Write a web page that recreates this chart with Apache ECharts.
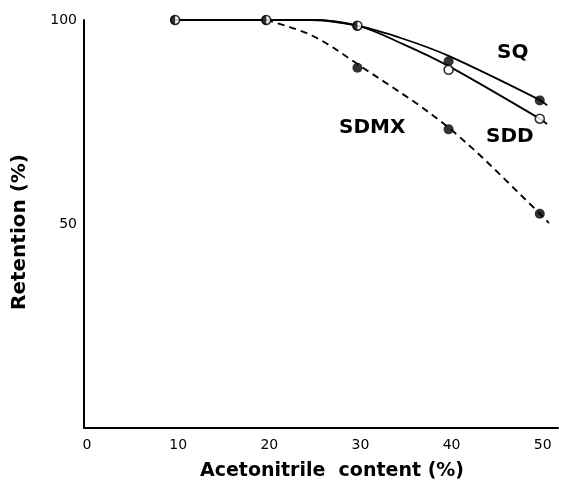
<!DOCTYPE html>
<html>
<head>
<meta charset="utf-8">
<script src="https://cdn.jsdelivr.net/npm/echarts@6/dist/echarts.min.js"></script>
<style>
  html, body { margin: 0; padding: 0; background: #fff; }
  #chart { width: 561px; height: 486px; }
</style>
</head>
<body>
<div id="chart"></div>
<script>
// Measured retention values (%) at each acetonitrile content (%)
const xTicks = [0, 10, 20, 30, 40, 50];
const yTicks = [50, 100];

// shared points where SQ and SDD coincide (half-filled markers)
const sharedX = [10, 20, 30];
const sharedY = [100, 100, 98.6];

const sqX = [40, 50];
const sqY = [89.9, 80.3];

const sddX = [40, 50];
const sddY = [87.8, 75.8];

const sdmxX = [30, 40, 50];
const sdmxY = [88.3, 73.2, 52.5];

// fitted curves
const sqCurveX = [10, 20, 25, 30, 35, 40, 50, 50.8];
const sqCurveY = [100, 100, 100, 98.6, 95.4, 91.2, 80.4, 79.1];

const sddCurveX = [10, 20, 25, 30, 35, 40, 50, 50.8];
const sddCurveY = [100, 100, 100, 98.6, 94.1, 88.7, 75.8, 74.5];

const sdmxCurveX = [20, 25, 30, 40, 50, 51];
const sdmxCurveY = [100, 96.2, 89.2, 73.6, 52.6, 50.2];

const zip = (xs, ys) => xs.map((x, i) => [x, ys[i]]);

const ink = '#000';
const titleFont = 'DejaVu Sans';

const chart = echarts.init(document.getElementById('chart'), null, { renderer: 'canvas' });

const curveBase = {
  type: 'line',
  smooth: 0.35,
  showSymbol: false,
  silent: true,
  z: 2
};

chart.setOption({
  animation: false,
  backgroundColor: '#fff',
  grid: { left: 84, top: 20, width: 476, height: 414, containLabel: false },
  xAxis: {
    type: 'value',
    min: 0,
    max: 52,
    interval: 10,
    axisLine: { show: true, onZero: false, lineStyle: { color: ink, width: 2 } },
    axisTick: { show: false },
    splitLine: { show: false },
    axisLabel: {
      color: ink,
      fontFamily: 'DejaVu Sans',
      fontSize: 14,
      margin: 10,
      padding: [0, 0, 0, 6],
      formatter: v => (xTicks.indexOf(v) >= 0 ? String(v) : '')
    },
    name: 'Acetonitrile  content (%)',
    nameLocation: 'middle',
    nameGap: 34,
    nameTextStyle: {
      color: ink,
      fontFamily: titleFont,
      fontWeight: 'bold',
      fontSize: 19,
      padding: [0, 0, 0, 22]
    }
  },
  yAxis: {
    type: 'value',
    min: 0,
    max: 100,
    interval: 50,
    axisLine: { show: true, onZero: false, lineStyle: { color: ink, width: 2 } },
    axisTick: { show: false },
    splitLine: { show: false },
    axisLabel: {
      color: ink,
      fontFamily: 'DejaVu Sans',
      fontSize: 14,
      margin: 7,
      formatter: v => (yTicks.indexOf(v) >= 0 ? String(v) : '')
    },
    name: 'Retention (%)',
    nameLocation: 'middle',
    nameGap: 54,
    nameRotate: 90,
    nameTextStyle: {
      color: ink,
      fontFamily: titleFont,
      fontWeight: 'bold',
      fontSize: 20,
      padding: [0, 16, 0, 0]
    }
  },
  series: [
    Object.assign({}, curveBase, {
      name: 'SQ curve',
      data: zip(sqCurveX, sqCurveY),
      lineStyle: { color: ink, width: 1.8 }
    }),
    Object.assign({}, curveBase, {
      name: 'SDD curve',
      data: zip(sddCurveX, sddCurveY),
      lineStyle: { color: ink, width: 1.8 }
    }),
    Object.assign({}, curveBase, {
      name: 'SDMX curve',
      data: zip(sdmxCurveX, sdmxCurveY),
      lineStyle: { color: ink, width: 1.9, type: [7, 5] }
    }),
    {
      name: 'SDMX',
      type: 'scatter',
      data: zip(sdmxX, sdmxY),
      symbol: 'circle',
      symbolSize: 10,
      itemStyle: { color: ink },
      z: 4
    },
    {
      name: 'SQ',
      type: 'scatter',
      data: zip(sqX, sqY),
      symbol: 'circle',
      symbolSize: 10,
      itemStyle: { color: ink },
      z: 4
    },
    {
      name: 'SDD',
      type: 'scatter',
      data: zip(sddX, sddY),
      symbol: 'circle',
      symbolSize: 9,
      itemStyle: { color: '#fff', borderColor: ink, borderWidth: 1.6 },
      z: 5
    },
    {
      name: 'SQ / SDD ring',
      type: 'scatter',
      data: zip(sharedX, sharedY),
      symbol: 'circle',
      symbolSize: 9,
      itemStyle: { color: '#fff', borderColor: ink, borderWidth: 1.6 },
      z: 5
    },
    {
      name: 'SQ / SDD half',
      type: 'scatter',
      data: zip(sharedX, sharedY),
      symbol: 'path://M10,0 A10,10 0 0 0 10,20 Z',
      symbolSize: [5, 10],
      symbolOffset: [-2.5, 0],
      symbolKeepAspect: false,
      itemStyle: { color: ink },
      z: 6
    }
  ],
  graphic: [
    { type: 'text', left: 497, top: 43, style: { text: 'SQ', fill: ink, font: 'bold 20px "DejaVu Sans"' } },
    { type: 'text', left: 486, top: 127, style: { text: 'SDD', fill: ink, font: 'bold 20px "DejaVu Sans"' } },
    { type: 'text', left: 339, top: 118, style: { text: 'SDMX', fill: ink, font: 'bold 20px "DejaVu Sans"' } }
  ]
});
</script>
</body>
</html>
